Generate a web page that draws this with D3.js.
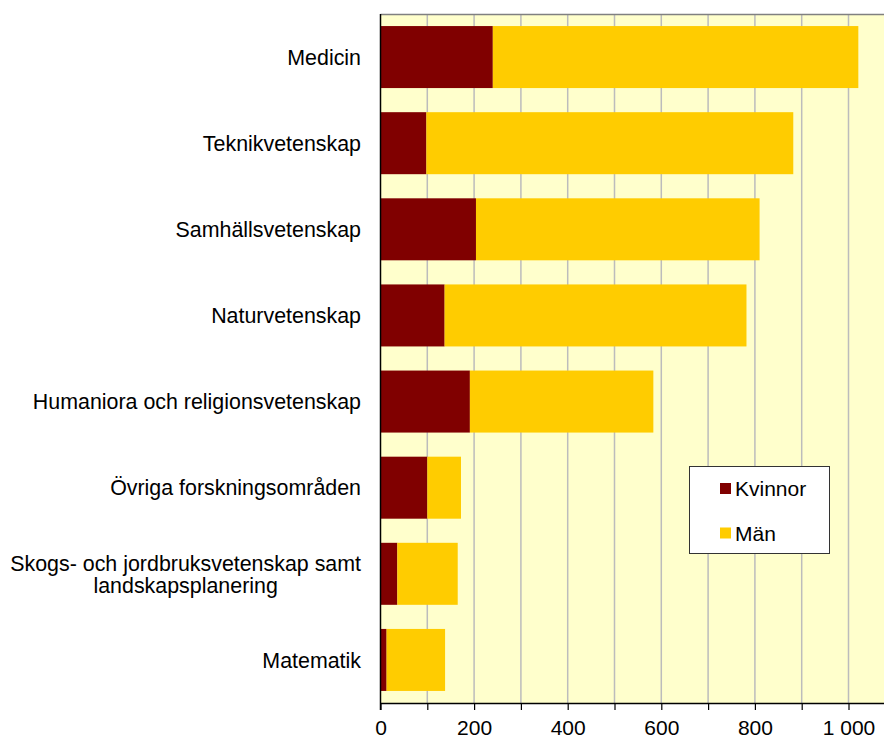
<!DOCTYPE html>
<html>
<head>
<meta charset="utf-8">
<script src="https://cdn.jsdelivr.net/npm/d3@7"></script>
<style>
  body { margin: 0; background: #fff; }
  svg { display: block; font-family: Arial, "Liberation Sans", sans-serif; }
</style>
</head>
<body>
<div id="chart"></div>
<script>
var categories = [
  "Medicin",
  "Teknikvetenskap",
  "Samhällsvetenskap",
  "Naturvetenskap",
  "Humaniora och religionsvetenskap",
  "Övriga forskningsområden",
  "Skogs- och jordbruksvetenskap samt\nlandskapsplanering",
  "Matematik"
];
var seriesNames = ["Kvinnor", "Män"];
var kvinnor = [240, 98, 204, 137, 191, 100, 36, 13];
var man = [781, 784, 606, 645, 392, 72, 129, 125];
var tickValues = [0, 200, 400, 600, 800, 1000];
var colors = ["#800000", "#ffcc00"];

var w = 884, h = 737;
var plotLeft = 380.5, plotTop = 14, plotBottom = 703;

var rows = categories.map(function(c, i) {
  return { cat: c, Kvinnor: kvinnor[i], "Män": man[i] };
});
var stacked = d3.stack().keys(seriesNames)(rows);

var x = d3.scaleLinear().domain([0, 1100]).range([plotLeft, plotLeft + 1100 * 0.468]);
var y = d3.scaleBand().domain(categories).range([plotTop, plotBottom])
  .paddingInner(0.28).paddingOuter(0.14);

var svg = d3.select("#chart").append("svg")
  .attr("width", w)
  .attr("height", h);

// plot background
svg.append("rect")
  .attr("x", plotLeft).attr("y", plotTop)
  .attr("width", w - plotLeft).attr("height", plotBottom - plotTop)
  .attr("fill", "#ffffcc");

// vertical grid lines every 100
svg.selectAll("line.grid")
  .data(d3.range(100, 1200, 100))
  .enter().append("line")
    .attr("class", "grid")
    .attr("x1", function(d) { return x(d); })
    .attr("x2", function(d) { return x(d); })
    .attr("y1", plotTop)
    .attr("y2", plotBottom)
    .style("stroke", "#bcbcbc")
    .style("stroke-width", 1.5);

// top border of the plot area
svg.append("line")
  .attr("x1", plotLeft).attr("x2", w)
  .attr("y1", plotTop + 0.5).attr("y2", plotTop + 0.5)
  .style("stroke", "#808080")
  .style("stroke-width", 1.5);

// stacked bars
svg.selectAll("g.series")
  .data(stacked)
  .enter().append("g")
    .attr("class", "series")
    .attr("fill", function(d, i) { return colors[i]; })
  .selectAll("rect")
  .data(function(d) { return d; })
  .enter().append("rect")
    .attr("x", function(d) { return x(d[0]); })
    .attr("width", function(d) { return x(d[1]) - x(d[0]); })
    .attr("y", function(d) { return y(d.data.cat); })
    .attr("height", y.bandwidth());

// x axis
var xAxis = d3.axisBottom(x)
  .tickValues(d3.range(0, 1200, 100))
  .tickSize(7)
  .tickFormat(function(d) {
    if (tickValues.indexOf(d) < 0) return "";
    return d3.format(",")(d).replace(",", " ");
  });

var gx = svg.append("g")
  .attr("transform", "translate(0," + plotBottom + ")")
  .call(xAxis);
gx.select(".domain").attr("stroke", "#000").attr("stroke-width", 1.5)
  .attr("d", "M" + plotLeft + ",0.5H" + w);
gx.selectAll(".tick line").attr("stroke", "#000").attr("stroke-width", 1.2);
gx.selectAll(".tick text")
  .attr("y", 17.5)
  .attr("dy", "0.71em")
  .style("font-size", "21px")
  .style("font-family", "Arial, 'Liberation Sans', sans-serif")
  .attr("fill", "#000");

// y axis line
svg.append("line")
  .attr("x1", plotLeft).attr("x2", plotLeft)
  .attr("y1", plotTop).attr("y2", plotBottom + 7)
  .style("stroke", "#000")
  .style("stroke-width", 1.5);

// category labels, multi-line ones centred as a block
var labelRight = 361;
svg.selectAll("text.cat")
  .data(categories)
  .enter().append("text")
    .attr("class", "cat")
    .style("font-size", "21.4px")
    .attr("fill", "#000")
    .each(function(d) {
      var lines = d.split("\n");
      var t = d3.select(this);
      var cy = y(d) + y.bandwidth() / 2;
      lines.forEach(function(line, i) {
        t.append("tspan")
          .attr("y", cy + (i - (lines.length - 1) / 2) * 22)
          .attr("dy", "0.36em")
          .text(line);
      });
      if (lines.length === 1) {
        t.attr("text-anchor", "end").selectAll("tspan").attr("x", labelRight);
      } else {
        var maxW = 0;
        t.selectAll("tspan").each(function() {
          maxW = Math.max(maxW, this.getComputedTextLength());
        });
        t.attr("text-anchor", "middle").selectAll("tspan").attr("x", labelRight - maxW / 2);
      }
    });

// legend
var legend = svg.append("g").attr("transform", "translate(689.5,466.5)");
legend.append("rect")
  .attr("width", 140).attr("height", 87)
  .attr("fill", "#fff")
  .attr("stroke", "#333")
  .attr("stroke-width", 1);
var items = legend.selectAll("g.item")
  .data(seriesNames)
  .enter().append("g")
    .attr("class", "item")
    .attr("transform", function(d, i) { return "translate(0," + (22 + i * 44.5) + ")"; });
items.append("rect")
  .attr("x", 30.5).attr("y", -5.5)
  .attr("width", 11).attr("height", 11)
  .attr("fill", function(d, i) { return colors[i]; });
items.append("text")
  .attr("x", 45.5).attr("y", 0)
  .attr("dy", "0.36em")
  .style("font-size", "21px")
  .attr("fill", "#000")
  .text(function(d) { return d; });
</script>
</body>
</html>
